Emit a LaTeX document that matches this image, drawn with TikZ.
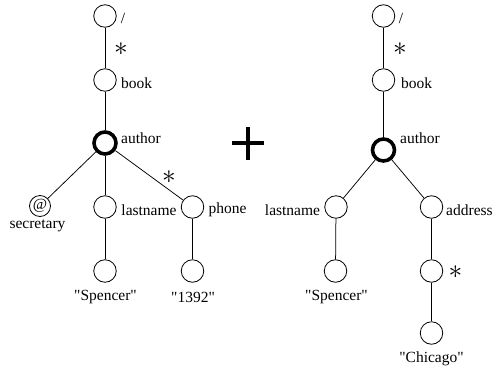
\documentclass[tikz,border=0pt]{standalone}
\usepackage{fontspec}
\setmainfont{Liberation Serif}
\usepackage{graphicx}
\newcommand{\qq}[1]{\textquotedbl#1\textquotedbl}
\newcommand{\astk}{\scalebox{1.9}{$\ast$}}
\begin{document}
\begin{tikzpicture}[x=1pt,y=-1pt,
  every node/.style={font=\fontsize{15.5}{18}\selectfont},
  nd/.style={circle,draw,line width=0.8pt,minimum size=22.5pt,inner sep=0pt},
  hub/.style={circle,draw,line width=3.6pt,minimum size=22pt,inner sep=0pt},
  lbl/.style={inner sep=0pt,anchor=center},
  edge/.style={line width=0.75pt},
  star/.style={inner sep=0pt}]
\useasboundingbox (0,0) rectangle (492,375);
% left tree
\node[nd] (lr) at (105,16) {};
\node[nd] (lb) at (105,80) {};
\node[hub] (la) at (105,143) {};
\node[nd,minimum size=21pt] (ls) at (40,206) {@};
\node[nd] (ll) at (105,207) {};
\node[nd] (lp) at (192.5,207) {};
\node[nd] (lsp) at (105,271) {};
\node[nd] (ln) at (192.5,271) {};
\draw[edge] (lr) -- (lb);
\draw[edge] (lb) -- (la);
\draw[edge] (la) -- (ls);
\draw[edge] (la) -- (ll);
\draw[edge] (la) -- (lp);
\draw[edge] (ll) -- (lsp);
\draw[edge] (lp) -- (ln);
\node[lbl] (tlr) at (123,18) {/};
\node[star] (tls1) at (121,49) {\astk};
\node[lbl] (tlb) at (136.5,83) {book};
\node[lbl] (tla) at (141,138) {author};
\node[star] (tls2) at (169,177) {\astk};
\node[lbl] (tls) at (37.5,226) {secretary};
\node[lbl] (tll) at (149,210) {lastname};
\node[lbl] (tlp) at (227.5,210) {phone};
\node[lbl] (tlsp) at (105.5,297) {\qq{Spencer}};
\node[lbl] (tln) at (193,297) {\qq{1392}};
% plus
\coordinate (pl) at (232,143);
\coordinate (pr) at (264,143);
\coordinate (pt) at (248,127);
\coordinate (pb) at (248,160);
\draw[line width=4pt] (pl) -- (pr);
\draw[line width=4pt] (pt) -- (pb);
% right tree
\node[nd] (rr) at (383.5,16) {};
\node[nd] (rb) at (383.5,80) {};
\node[hub] (ra) at (383.5,150) {};
\node[nd] (rl) at (336,207) {};
\node[nd] (rad) at (431.5,207) {};
\node[nd] (rsp) at (335.5,271) {};
\node[nd] (rst) at (431.5,271) {};
\node[nd] (rch) at (431.5,333) {};
\draw[edge] (rr) -- (rb);
\draw[edge] (rb) -- (ra);
\draw[edge] (ra) -- (rl);
\draw[edge] (ra) -- (rad);
\draw[edge] (rl) -- (rsp);
\draw[edge] (rad) -- (rst);
\draw[edge] (rst) -- (rch);
\node[lbl] (trr) at (401,18) {/};
\node[star] (trs1) at (400,49) {\astk};
\node[lbl] (trb) at (416.5,83) {book};
\node[lbl] (tra) at (420,138) {author};
\node[lbl] (trl) at (292.5,210) {lastname};
\node[lbl,anchor=west] (trad) at (446,210) {address};
\node[lbl] (trsp) at (336.5,297) {\qq{Spencer}};
\node[star] (trs2) at (455.5,272) {\astk};
\node[lbl] (trch) at (431.5,359) {\qq{Chicago}};
\end{tikzpicture}
\end{document}
